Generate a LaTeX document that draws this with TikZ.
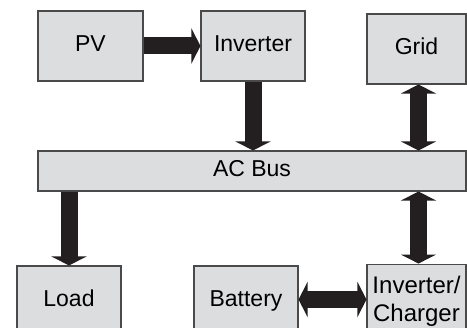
\documentclass[tikz,border=0pt]{standalone}
\usepackage{fontspec}
\setmainfont{Liberation Sans}
\usetikzlibrary{arrows.meta}
\definecolor{boxfill}{HTML}{DCDDDF}
\definecolor{boxline}{HTML}{4A4A4A}
\definecolor{arrcol}{HTML}{231F20}
\tikzset{
  blk/.style={draw=boxline, line width=1.1pt, fill=boxfill, inner sep=0pt,
    font=\fontsize{23}{27.7}\selectfont, text height=17pt, text depth=5pt},
  fat/.style={draw=arrcol, line width=17pt, -{Triangle[width=35pt,length=9pt]}},
  fatboth/.style={draw=arrcol, line width=17pt, {Triangle[width=35pt,length=9pt]}-{Triangle[width=35pt,length=9pt]}}
}
\begin{document}
\begin{tikzpicture}[x=1pt,y=-1pt]
\useasboundingbox (0,0) rectangle (467,328);
\node[blk, minimum width=105pt, minimum height=70pt] (pv) at (90.5,46) {PV};
\node[blk, minimum width=104pt, minimum height=70pt] (inv) at (253,46) {Inverter};
\node[blk, minimum width=99pt, minimum height=70pt] (grid) at (416.5,49) {Grid};
\node[blk, minimum width=428pt, minimum height=40pt] (bus) at (252,171) {AC Bus};
\node[blk, minimum width=104pt, minimum height=70pt] (load) at (69,301) {Load};
\node[blk, minimum width=104pt, minimum height=70pt] (bat) at (246,301) {Battery};
\node[blk, minimum width=99pt, minimum height=75pt, align=center, text height=, text depth=, font=\fontsize{24}{27.7}\selectfont] (ich) at (416.5,301.6) {Inverter/\\Charger};
\draw[fat] (pv.east) -- (inv.west);
\draw[fat] (inv.south) -- (inv.south |- bus.north);
\draw[fatboth] ([xshift=2pt]grid.south) -- ([xshift=2pt]grid.south |- bus.north);
\draw[fat] (bus.south -| load.north) -- (load.north);
\draw[fatboth] ([xshift=2pt]ich.north |- bus.south) -- ([xshift=2pt]ich.north);
\draw[fatboth] ([yshift=1.5pt]bat.east) -- ([yshift=1.5pt]bat.east -| ich.west);
\end{tikzpicture}
\end{document}
